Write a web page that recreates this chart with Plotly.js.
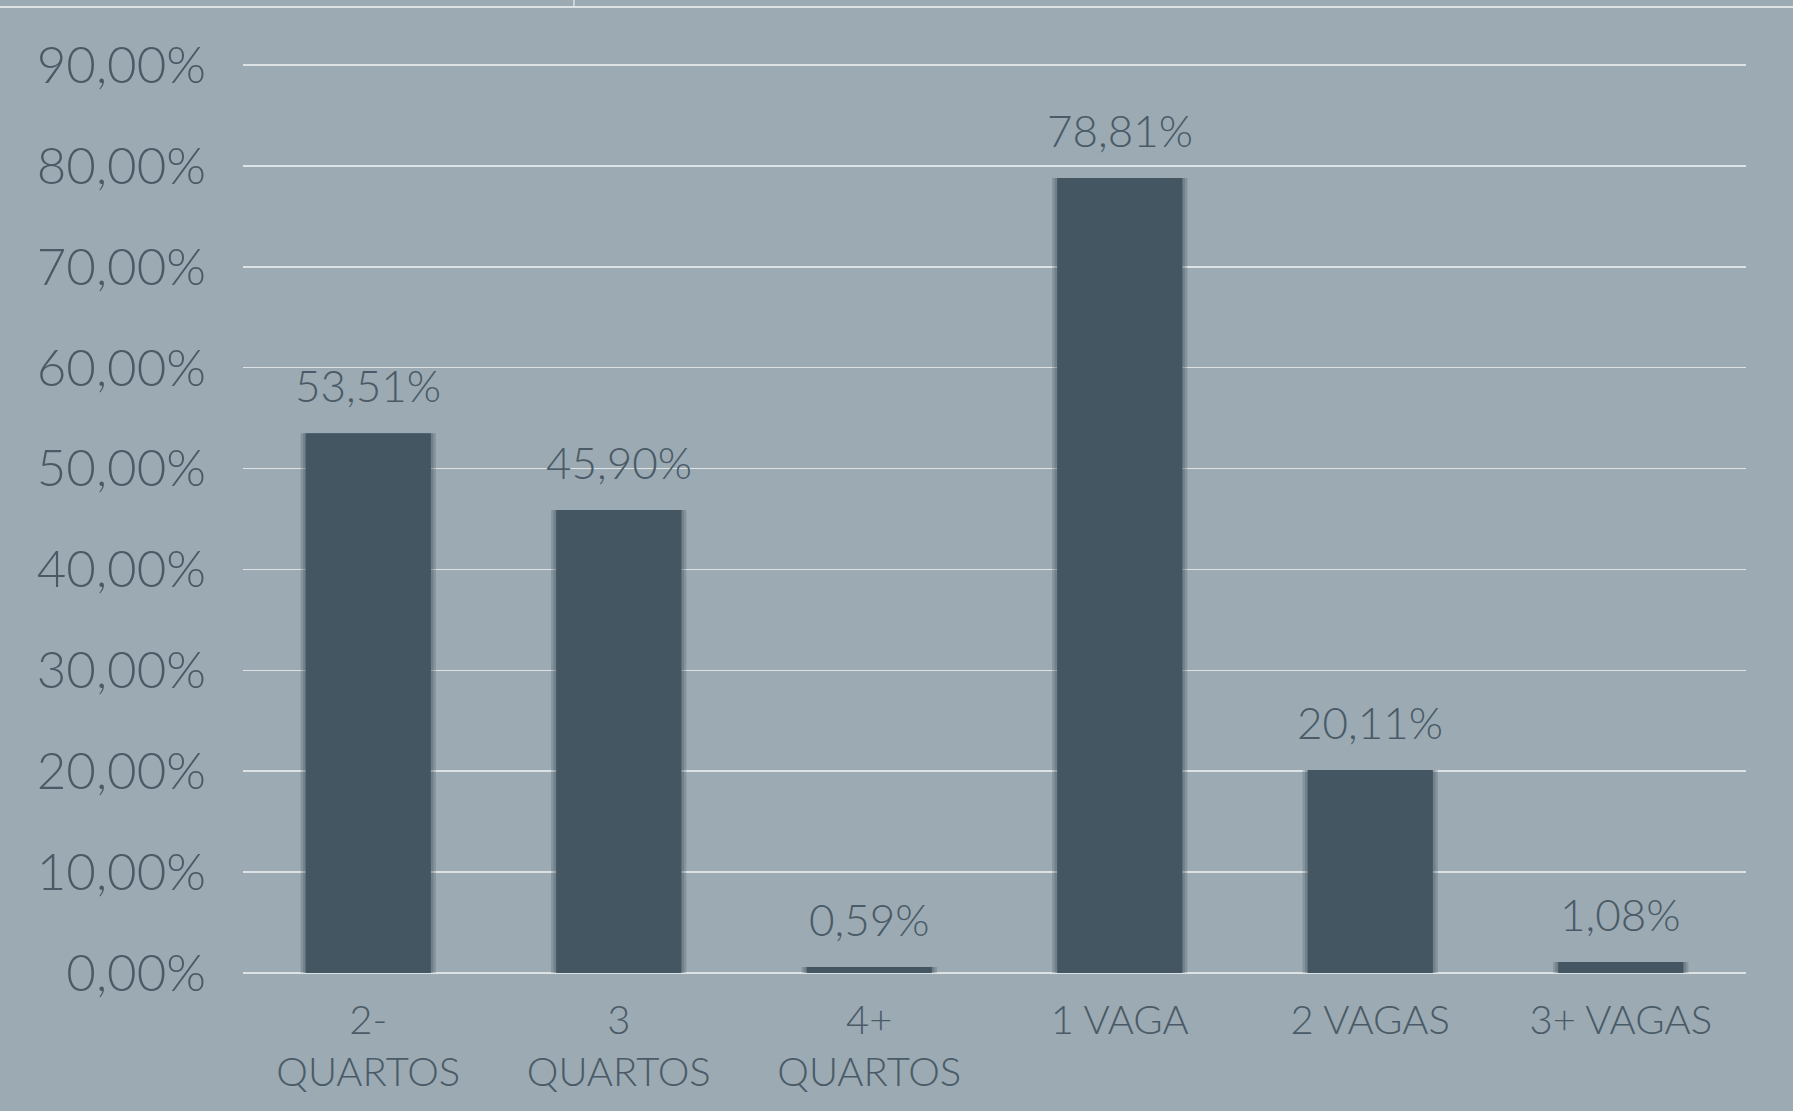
<!DOCTYPE html>
<html>
<head>
<meta charset="utf-8">
<script src="https://cdn.plot.ly/plotly-3.0.1.min.js"></script>
<style>
html,body{margin:0;padding:0;background:#9caab3;}
#chart{width:1793px;height:1111px;}
</style>
</head>
<body>
<div id="chart"></div>
<script>
const categories = ["2-<br>QUARTOS", "3<br>QUARTOS", "4+<br>QUARTOS", "1 VAGA", "2 VAGAS", "3+ VAGAS"];
const values = [53.51, 45.90, 0.59, 78.81, 20.11, 1.08];
const valueLabels = ["53,51%", "45,90%", "0,59%", "78,81%", "20,11%", "1,08%"];
const yTicks = [0, 10, 20, 30, 40, 50, 60, 70, 80, 90];
const yTickLabels = ["0,00%", "10,00%", "20,00%", "30,00%", "40,00%", "50,00%", "60,00%", "70,00%", "80,00%", "90,00%"];

const bg = "#9caab3";
const barColor = "#455663";
const textColor = "#4a5b67";
const gridColor = "#dde2e5";
const fontFam = "Lato, 'Open Sans', sans-serif";

const shadow = {
  type: "bar", x: categories, y: values, width: 0.54,
  marker: {color: "rgba(55,70,80,0.22)", line: {width: 0}},
  hoverinfo: "skip", showlegend: false
};
const shadow2 = {
  type: "bar", x: categories, y: values, width: 0.52,
  marker: {color: "rgba(55,70,80,0.25)", line: {width: 0}},
  hoverinfo: "skip", showlegend: false
};
const bars = {
  type: "bar", x: categories, y: values, width: 0.5,
  marker: {color: barColor, line: {width: 0}},
  showlegend: false
};

const annotations = categories.map((c, i) => ({
  x: c, y: values[i], xref: "x", yref: "y",
  text: valueLabels[i], showarrow: false,
  yanchor: "bottom", yshift: 20,
  font: {family: fontFam, size: 44, color: textColor, weight: 300}
}));

const layout = {
  width: 1793, height: 1111,
  paper_bgcolor: bg, plot_bgcolor: bg,
  margin: {l: 243, r: 47, t: 64, b: 138},
  barmode: "overlay",
  separators: ",.",
  font: {family: fontFam, color: textColor},
  xaxis: {
    type: "category",
    showgrid: false, zeroline: false, showline: false,
    ticks: "",
    tickfont: {family: fontFam, size: 40, color: textColor, weight: 300},
    ticklabelstandoff: 20
  },
  yaxis: {
    range: [0, 90.1],
    tickvals: yTicks,
    ticktext: yTickLabels,
    showgrid: true, gridcolor: gridColor, gridwidth: 1.5,
    zeroline: true, zerolinecolor: gridColor, zerolinewidth: 2.5,
    showline: false, ticks: "",
    tickfont: {family: fontFam, size: 51, color: textColor, weight: 300},
    ticklabelstandoff: 36
  },
  annotations: annotations,
  shapes: [
    {type: "line", xref: "paper", yref: "paper", x0: -0.17, x1: 1.04, y0: 1.0628, y1: 1.0628,
     line: {color: gridColor, width: 2}},
    {type: "line", xref: "paper", yref: "paper", x0: 0.2202, x1: 0.2202, y0: 1.0628, y1: 1.08,
     line: {color: gridColor, width: 1.5}}
  ]
};

Plotly.newPlot("chart", [shadow, shadow2, bars], layout, {displayModeBar: false, staticPlot: true});
</script>
</body>
</html>
